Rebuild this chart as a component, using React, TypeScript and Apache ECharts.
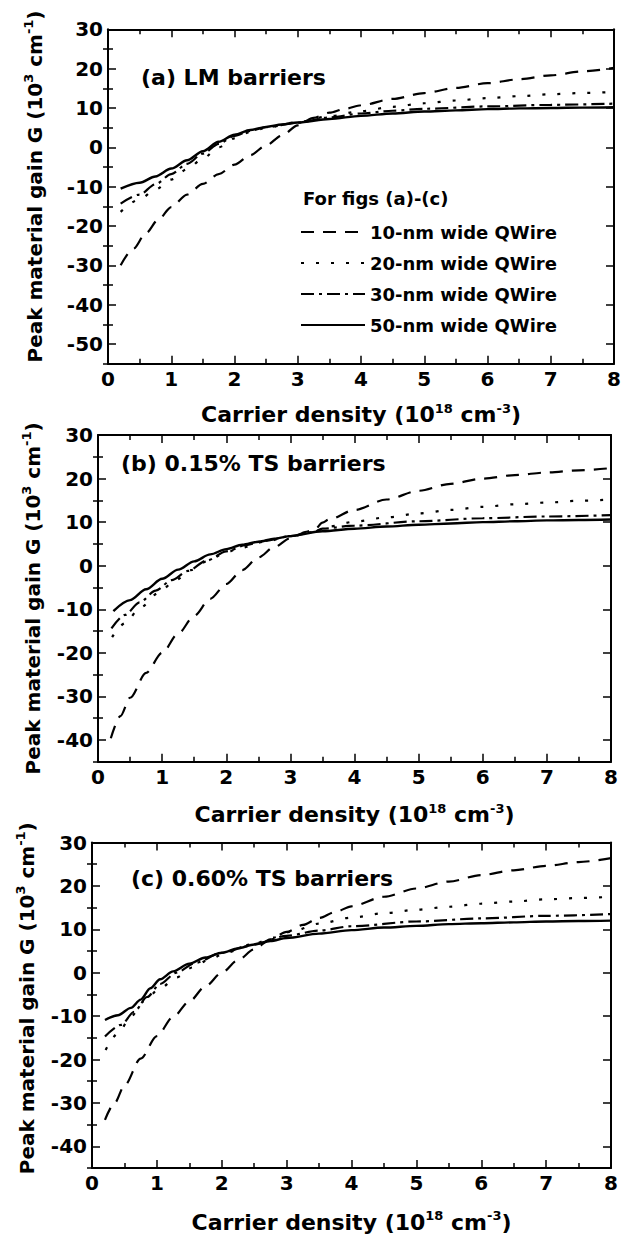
import React, { useEffect, useRef } from 'react';
import * as echarts from 'echarts';

const FONT = 'DejaVu Sans';

const xTicks = [0, 1, 2, 3, 4, 5, 6, 7, 8];
const yTicksA = [-50, -40, -30, -20, -10, 0, 10, 20, 30];
const yMinorA = [-55, -45, -35, -25, -15, -5, 5, 15, 25];
const yTicksBC = [-40, -30, -20, -10, 0, 10, 20, 30];
const yMinorBC = [-45, -35, -25, -15, -5, 5, 15, 25];

const seriesNames = ['10-nm wide QWire', '20-nm wide QWire', '30-nm wide QWire', '50-nm wide QWire'];
const panelLabels = ['(a) LM barriers', '(b) 0.15% TS barriers', '(c) 0.60% TS barriers'];
const legendTitle = 'For figs (a)-(c)';

// Panel (a) LM barriers
const a10 = [[0.2, -30], [0.4, -25.8], [0.6, -21.8], [0.8, -18.3], [1.0, -15.2], [1.25, -12.0], [1.5, -9.3], [1.75, -6.8], [2.0, -4.4], [2.25, -2.0], [2.5, 0.5], [2.75, 3.0], [3.0, 5.6], [3.25, 7.5], [3.5, 8.8], [3.75, 9.8], [4.0, 10.7], [4.5, 12.3], [5.0, 13.8], [5.5, 15.1], [6.0, 16.3], [6.5, 17.3], [7.0, 18.3], [7.5, 19.3], [8.0, 20.2]];
const a20 = [[0.2, -16.4], [0.5, -13.2], [0.75, -10.7], [1.0, -8.2], [1.25, -5.6], [1.5, -2.8], [1.75, 0.0], [2.0, 2.3], [2.25, 3.9], [2.5, 5.0], [3.0, 6.4], [3.5, 7.9], [4.0, 9.2], [4.5, 10.3], [5.0, 11.2], [5.5, 11.9], [6.0, 12.5], [6.5, 13.0], [7.0, 13.5], [7.5, 13.8], [8.0, 14.1]];
const a30 = [[0.2, -14.3], [0.5, -12.0], [0.75, -9.4], [1.0, -6.8], [1.25, -4.2], [1.5, -1.6], [1.75, 0.9], [2.0, 2.9], [2.25, 4.2], [2.5, 5.1], [3.0, 6.3], [3.5, 7.6], [4.0, 8.6], [4.5, 9.3], [5.0, 9.8], [6.0, 10.4], [7.0, 10.8], [8.0, 11.1]];
const a50 = [[0.2, -10.5], [0.5, -9.0], [0.75, -7.4], [1.0, -5.4], [1.25, -3.3], [1.5, -1.0], [1.75, 1.4], [2.0, 3.2], [2.25, 4.4], [2.5, 5.2], [2.75, 5.8], [3.0, 6.3], [3.5, 7.2], [4.0, 8.0], [4.5, 8.6], [5.0, 9.1], [5.5, 9.4], [6.0, 9.7], [6.5, 9.9], [7.0, 10.0], [7.5, 10.1], [8.0, 10.2]];

// Panel (b) 0.15% TS barriers
const b10 = [[0.2, -39.6], [0.35, -34.5], [0.5, -30.3], [0.75, -24.6], [1.0, -20.0], [1.25, -15.6], [1.5, -11.5], [1.75, -7.6], [2.0, -4.2], [2.25, -1.0], [2.5, 1.9], [2.75, 4.3], [3.0, 6.3], [3.25, 7.8], [3.4, 8.6], [3.5, 9.9], [3.6, 10.6], [4.0, 12.8], [4.5, 15.2], [5.0, 17.2], [5.5, 18.8], [6.0, 20.0], [6.5, 20.8], [7.0, 21.4], [7.5, 21.9], [8.0, 22.4]];
const b20 = [[0.22, -16.4], [0.42, -13.2], [0.66, -9.6], [0.94, -6.3], [1.2, -3.4], [1.45, -1.0], [1.7, 1.0], [1.95, 2.7], [2.2, 4.0], [2.6, 5.5], [3.0, 6.8], [3.4, 8.0], [3.6, 9.0], [4.0, 10.1], [4.5, 11.1], [5.0, 12.0], [5.5, 12.8], [6.0, 13.5], [6.5, 14.1], [7.0, 14.5], [7.5, 14.9], [8.0, 15.2]];
const b30 = [[0.21, -14.4], [0.42, -11.3], [0.65, -8.4], [0.9, -5.7], [1.15, -3.3], [1.4, -1.2], [1.7, 1.2], [2.0, 3.3], [2.3, 4.7], [2.6, 5.7], [3.0, 6.8], [3.35, 7.7], [3.5, 8.5], [4.0, 9.2], [5.0, 10.2], [6.0, 10.9], [7.0, 11.3], [8.0, 11.6]];
const b50 = [[0.24, -10.4], [0.5, -7.9], [0.75, -5.4], [1.0, -3.0], [1.25, -0.9], [1.5, 1.0], [1.75, 2.6], [2.0, 3.8], [2.25, 4.8], [2.5, 5.5], [2.75, 6.2], [3.0, 6.8], [3.5, 7.9], [4.0, 8.5], [4.5, 9.0], [5.0, 9.4], [5.5, 9.7], [6.0, 10.0], [6.5, 10.2], [7.0, 10.4], [7.5, 10.5], [8.0, 10.6]];

// Panel (c) 0.60% TS barriers
const c10 = [[0.2, -33.9], [0.35, -30.0], [0.5, -26.0], [0.75, -19.8], [1.0, -14.6], [1.25, -10.2], [1.5, -6.6], [1.75, -3.1], [2.0, 0.0], [2.25, 2.9], [2.5, 5.4], [2.75, 7.7], [3.0, 9.4], [3.25, 11.0], [3.5, 12.6], [3.75, 14.0], [4.0, 15.3], [4.5, 17.5], [5.0, 19.4], [5.5, 21.0], [6.0, 22.5], [6.5, 23.6], [7.0, 24.6], [7.5, 25.5], [8.0, 26.4]];
const c20 = [[0.21, -17.8], [0.4, -14.0], [0.6, -10.1], [0.8, -6.6], [1.05, -3.6], [1.3, -1.1], [1.55, 1.2], [1.8, 3.0], [2.05, 4.5], [2.4, 6.1], [2.8, 8.1], [3.1, 9.6], [3.5, 11.3], [4.0, 12.7], [4.5, 13.7], [5.0, 14.5], [5.5, 15.2], [6.0, 15.9], [6.5, 16.4], [7.0, 16.9], [7.5, 17.2], [8.0, 17.5]];
const c30 = [[0.2, -14.7], [0.45, -12.0], [0.65, -9.0], [0.85, -5.6], [1.05, -2.6], [1.3, 0.0], [1.6, 2.3], [2.0, 4.6], [2.5, 6.6], [3.0, 8.5], [3.5, 9.7], [4.0, 10.7], [5.0, 11.8], [6.0, 12.5], [7.0, 13.1], [8.0, 13.5]];
const c50 = [[0.2, -10.9], [0.4, -9.8], [0.6, -8.1], [0.75, -6.2], [0.9, -3.6], [1.05, -1.5], [1.25, 0.3], [1.5, 2.1], [1.75, 3.5], [2.0, 4.6], [2.25, 5.6], [2.5, 6.5], [2.75, 7.3], [3.0, 8.0], [3.5, 9.0], [4.0, 9.8], [4.5, 10.4], [5.0, 10.8], [5.5, 11.2], [6.0, 11.4], [6.5, 11.6], [7.0, 11.8], [7.5, 11.9], [8.0, 12.0]];

const panelData = [
  [a10, a20, a30, a50],
  [b10, b20, b30, b50],
  [c10, c20, c30, c50],
];

const dashes: any[] = [[13, 9], [3, 12], [13, 5, 3, 5], 'solid'];

const panels = [
  { left: 108, top: 29.3, width: 506, height: 334.4, ymin: -55, ymax: 30, ticks: yTicksA, minor: yMinorA, yGap: 60, yShift: 20, xGap: 38, labelX: 141, labelY: 79 },
  { left: 98, top: 435, width: 513, height: 326.8, ymin: -45, ymax: 30, ticks: yTicksBC, minor: yMinorBC, yGap: 52, yShift: 0, xGap: 40, labelX: 121, labelY: 465 },
  { left: 92, top: 842.5, width: 519, height: 325.5, ymin: -45, ymax: 30, ticks: yTicksBC, minor: yMinorBC, yGap: 48, yShift: 14, xGap: 41, labelX: 131, labelY: 880 },
];

const black = '#000';
const labelStyle = { fontSize: 20, fontWeight: 'bold', fontFamily: FONT, color: black };
const richSup = { sup: { fontSize: 13, fontWeight: 'bold', fontFamily: FONT, color: black, verticalAlign: 'top', lineHeight: 26 } };

export default function App() {
  const ref = useRef<HTMLDivElement>(null);
  useEffect(() => {
    if (!ref.current) return;
    const chart = echarts.init(ref.current, null, { renderer: 'svg' });
    const grid: any[] = [];
    const xAxis: any[] = [];
    const yAxis: any[] = [];
    const series: any[] = [];
    const graphic: any[] = [];
    panels.forEach((p, i) => {
      grid.push({ left: p.left, top: p.top, width: p.width, height: p.height, containLabel: false });
      const xBase = {
        gridIndex: i, type: 'value', min: 0, max: 8, interval: 1,
        axisLine: { show: true, onZero: false, lineStyle: { color: black, width: 2 } },
        axisTick: { show: true, inside: true, length: 8, lineStyle: { color: black, width: 1.5 } },
        minorTick: { show: true, splitNumber: 2, length: 5, lineStyle: { color: black, width: 1.5 } },
        splitLine: { show: false }, minorSplitLine: { show: false },
      };
      xAxis.push({
        ...xBase, position: 'bottom',
        axisLabel: { ...labelStyle, margin: 5, customValues: xTicks },
        name: 'Carrier density (10{sup|18} cm{sup|-3})',
        nameLocation: 'middle', nameGap: p.xGap,
        nameTextStyle: { fontSize: 22, fontWeight: 'bold', fontFamily: FONT, color: black, lineHeight: 26, rich: richSup },
      });
      xAxis.push({ ...xBase, position: 'top', axisLabel: { show: false } });
      const yBase = {
        gridIndex: i, type: 'value', min: p.ymin, max: p.ymax,
        splitLine: { show: false },
      };
      yAxis.push({
        ...yBase, position: 'left',
        axisLine: { show: true, onZero: false, lineStyle: { color: black, width: 2 } },
        axisTick: { show: true, inside: true, length: 8, customValues: p.ticks, lineStyle: { color: black, width: 1.5 } },
        axisLabel: { ...labelStyle, margin: 5, customValues: p.ticks },
        name: 'Peak material gain G (10{sup|3} cm{sup|-1})',
        nameLocation: 'middle', nameGap: p.yGap, nameRotate: 90,
        nameTextStyle: { fontSize: 20, fontWeight: 'bold', fontFamily: FONT, color: black, lineHeight: 26, padding: [0, 0, 0, p.yShift], rich: richSup },
      });
      yAxis.push({
        ...yBase, position: 'left',
        axisLine: { show: false },
        axisTick: { show: true, inside: true, length: 5, customValues: p.minor, lineStyle: { color: black, width: 1.5 } },
        axisLabel: { show: false },
      });
      yAxis.push({
        ...yBase, position: 'right',
        axisLine: { show: true, onZero: false, lineStyle: { color: black, width: 2 } },
        axisTick: { show: true, inside: true, length: 8, customValues: p.ticks, lineStyle: { color: black, width: 1.5 } },
        axisLabel: { show: false },
      });
      yAxis.push({
        ...yBase, position: 'right',
        axisLine: { show: false },
        axisTick: { show: true, inside: true, length: 5, customValues: p.minor, lineStyle: { color: black, width: 1.5 } },
        axisLabel: { show: false },
      });
      panelData[i].forEach((d, k) => {
        series.push({
          name: seriesNames[k], type: 'line', xAxisIndex: 2 * i, yAxisIndex: 4 * i,
          data: d, symbol: 'none', showSymbol: false, smooth: 0.3, smoothMonotone: 'x',
          lineStyle: { color: black, width: k === 3 ? 2.4 : 2.2, type: dashes[k] },
          itemStyle: { color: black },
          z: 3,
        });
      });
      graphic.push({
        type: 'text', left: p.labelX, top: p.labelY - 13,
        style: { text: panelLabels[i], fontSize: 22, fontWeight: 'bold', fontFamily: FONT, fill: black },
      });
    });
    graphic.push({
      type: 'text', left: 303, top: 189,
      style: { text: legendTitle, fontSize: 18, fontWeight: 'bold', fontFamily: FONT, fill: black },
    });
    chart.setOption({
      animation: false,
      backgroundColor: '#fff',
      grid, xAxis, yAxis, series, graphic,
      legend: {
        data: seriesNames, orient: 'vertical', left: 300, top: 223, padding: 0,
        itemWidth: 64, itemHeight: 14, itemGap: 13, selectedMode: false,
        itemStyle: { opacity: 0 },
        textStyle: { fontSize: 18, fontWeight: 'bold', fontFamily: FONT, color: black },
      },
    });
    return () => chart.dispose();
  }, []);
  return <div ref={ref} style={{ position: 'absolute', left: 0, top: 0, width: 624, height: 1238 }} />;
}
